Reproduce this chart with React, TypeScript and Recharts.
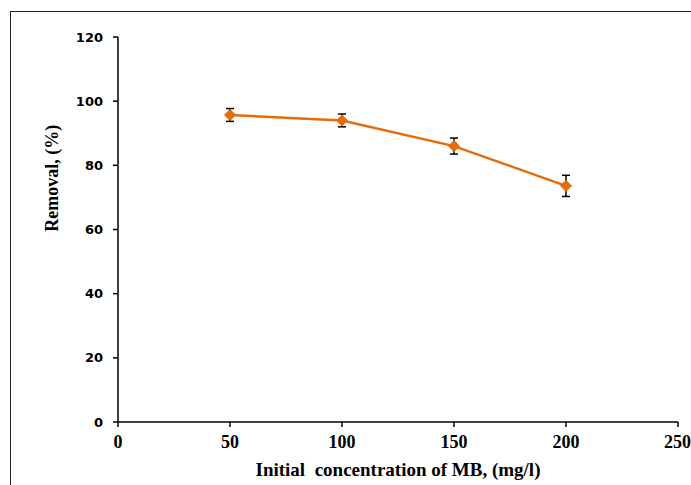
import { CartesianGrid, ErrorBar, Label, Line, LineChart, XAxis, YAxis } from "recharts";

const concentrations = [50, 100, 150, 200];
const removal = [95.7, 94.0, 86.0, 73.6];
const removalError = [2.0, 2.0, 2.5, 3.3];
const xTicks = [0, 50, 100, 150, 200, 250];
const yTicks = [0, 20, 40, 60, 80, 100, 120];

const data = concentrations.map((c, i) => ({ conc: c, removal: removal[i], err: removalError[i] }));

const ORANGE = "#E46C0A";
const serif = "'Liberation Serif', 'Times New Roman', serif";
const sans = "'DejaVu Sans', Verdana, sans-serif";

function Diamond(props: { cx?: number; cy?: number; index?: number }) {
  const { cx, cy, index } = props;
  if (cx == null || cy == null) return null;
  const r = 5.5;
  return (
    <polygon
      key={index}
      points={`${cx},${cy - r} ${cx + r},${cy} ${cx},${cy + r} ${cx - r},${cy}`}
      fill={ORANGE}
      stroke={ORANGE}
    />
  );
}

export default function App() {
  return (
    <div style={{ position: "relative", width: 691, height: 485, overflow: "hidden", background: "#fff" }}>
      <style>{"body{margin:0}"}</style>
      {/* frame around the whole figure */}
      <div
        style={{
          position: "absolute",
          left: 10,
          top: 11,
          width: 800,
          height: 600,
          borderLeft: "1.5px solid #222",
          borderTop: "1.5px solid #222",
        }}
      />
      <div style={{ position: "absolute", left: 0, top: 0 }}>
        <LineChart width={691} height={485} data={data} margin={{ top: 37, right: 13, bottom: 0, left: 0 }}>
          <CartesianGrid stroke="none" />
          <XAxis
            xAxisId="main"
            dataKey="conc"
            type="number"
            domain={[0, 250]}
            ticks={xTicks}
            height={63}
            tickSize={5}
            tickMargin={8}
            axisLine={{ stroke: "#000", strokeWidth: 1.5 }}
            tickLine={{ stroke: "#000", strokeWidth: 1.5 }}
            tick={{ fill: "#000", fontSize: 18, fontWeight: 700, fontFamily: serif }}
          >
            <Label
              value={"Initial\u00a0 concentration of MB, (mg/l)"}
              position="insideBottom"
              offset={9}
              style={{ fill: "#000", fontSize: 19, fontWeight: 700, fontFamily: serif }}
            />
          </XAxis>
          <XAxis xAxisId="top" orientation="top" type="number" domain={[0, 250]} height={0} tick={false} tickLine={false} axisLine={{ stroke: "#000", strokeWidth: 1.5 }} />
          <YAxis
            yAxisId="main"
            type="number"
            domain={[0, 120]}
            ticks={yTicks}
            width={118}
            tickSize={5}
            tickMargin={10}
            axisLine={{ stroke: "#000", strokeWidth: 1.5 }}
            tickLine={{ stroke: "#000", strokeWidth: 1.5 }}
            tick={{ fill: "#000", fontSize: 13, fontWeight: 700, fontFamily: sans }}
          >
            <Label
              content={({ viewBox }) => {
                const vb = viewBox as { x: number; y: number; height: number };
                const x = vb.x + 52;
                const y = vb.y + vb.height * 0.367;
                return (
                  <text
                    x={x}
                    y={y}
                    transform={`rotate(-90, ${x}, ${y})`}
                    textAnchor="middle"
                    dominantBaseline="central"
                    style={{ fill: "#000", fontSize: 18, fontWeight: 700, fontFamily: serif }}
                  >
                    Removal, (%)
                  </text>
                );
              }}
            />
          </YAxis>
          <YAxis yAxisId="right" orientation="right" type="number" domain={[0, 120]} width={0} tick={false} tickLine={false} axisLine={{ stroke: "#000", strokeWidth: 1.5 }} />
          <Line
            xAxisId="main"
            yAxisId="main"
            dataKey="removal"
            stroke={ORANGE}
            strokeWidth={2.5}
            dot={<Diamond />}
            activeDot={false}
            isAnimationActive={false}
          >
            <ErrorBar dataKey="err" direction="y" width={4} stroke="#000" strokeWidth={1.5} isAnimationActive={false} />
          </Line>
        </LineChart>
      </div>
    </div>
  );
}
